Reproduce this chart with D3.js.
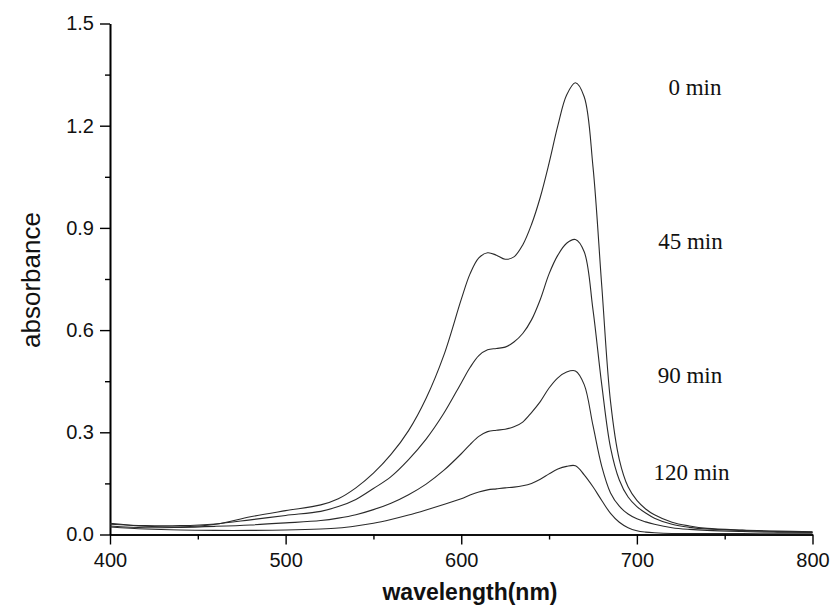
<!DOCTYPE html>
<html lang="en">
<head>
  <meta charset="UTF-8">
  <script src="https://d3js.org/d3.v7.min.js"></script>
  <title>Absorbance spectra</title>
  <style>
    body { margin: 0; background: #fff; }
    .tick text { font-family: "Liberation Sans", Arial, sans-serif; font-size: 20px; fill: #111; }
    .domain { stroke: #000; stroke-width: 1.6px; }
    .tick line { stroke: #000; stroke-width: 1.4px; }
  </style>
</head>
<body>
  <div id="chart"></div>
  <script>
    // wavelength grid (nm), shared by all four spectra
    const wavelengths = [400, 420, 440, 460, 480, 500, 520, 530, 540, 550, 560, 570, 580, 590, 600, 605, 610, 615,
      620, 625, 630, 635, 640, 645, 650, 655, 660, 665, 670, 675, 680, 685, 690, 695, 700, 705, 710, 720, 730, 740,
      760, 780, 800];

    // absorbance
    const abs0 = [0.033, 0.024, 0.022, 0.030, 0.052, 0.070, 0.087, 0.105, 0.137, 0.180, 0.235, 0.305, 0.400, 0.525,
      0.690, 0.765, 0.812, 0.827, 0.820, 0.808, 0.815, 0.850, 0.910, 0.990, 1.090, 1.200, 1.290, 1.326, 1.285, 1.080,
      0.730, 0.390, 0.220, 0.140, 0.100, 0.075, 0.058, 0.036, 0.025, 0.018, 0.013, 0.010, 0.008];
    const abs45 = [0.030, 0.026, 0.026, 0.031, 0.043, 0.056, 0.068, 0.082, 0.103, 0.135, 0.170, 0.220, 0.280, 0.355,
      0.445, 0.490, 0.525, 0.542, 0.546, 0.550, 0.565, 0.590, 0.630, 0.690, 0.765, 0.820, 0.855, 0.866, 0.830, 0.660,
      0.440, 0.255, 0.160, 0.110, 0.082, 0.063, 0.048, 0.030, 0.021, 0.016, 0.012, 0.009, 0.007];
    const abs90 = [0.025, 0.020, 0.021, 0.024, 0.028, 0.034, 0.041, 0.048, 0.058, 0.073, 0.092, 0.117, 0.148, 0.188,
      0.237, 0.264, 0.288, 0.302, 0.306, 0.309, 0.316, 0.330, 0.358, 0.390, 0.430, 0.460, 0.477, 0.480, 0.440, 0.320,
      0.200, 0.122, 0.083, 0.060, 0.046, 0.037, 0.030, 0.020, 0.015, 0.012, 0.009, 0.007, 0.006];
    const abs120 = [0.022, 0.016, 0.013, 0.012, 0.012, 0.013, 0.016, 0.019, 0.025, 0.033, 0.044, 0.057, 0.072, 0.088,
      0.105, 0.116, 0.125, 0.131, 0.134, 0.137, 0.139, 0.143, 0.150, 0.162, 0.178, 0.192, 0.200, 0.202, 0.175, 0.140,
      0.100, 0.062, 0.036, 0.020, 0.011, 0.007, 0.005, 0.003, 0.003, 0.003, 0.003, 0.004, 0.004];

    const seriesNames = ['0 min', '45 min', '90 min', '120 min'];
    const seriesValues = [abs0, abs45, abs90, abs120];

    const xTicks = [400, 500, 600, 700, 800];
    const xMinorTicks = [450, 550, 650, 750];
    const yTicks = [0, 0.3, 0.6, 0.9, 1.2, 1.5];
    const yMinorTicks = [0.15, 0.45, 0.75, 1.05, 1.35];

    const width = 833, height = 606;
    const svg = d3.select('#chart').append('svg')
      .attr('width', width)
      .attr('height', height);

    const x = d3.scaleLinear().domain([400, 800]).range([110, 812.5]);
    const y = d3.scaleLinear().domain([0, 1.5]).range([534.5, 23.5]);

    // minor ticks first, no labels
    svg.append('g')
      .attr('transform', `translate(0,${y(0)})`)
      .call(d3.axisBottom(x).tickValues(xMinorTicks).tickSize(5).tickSizeOuter(0).tickFormat(''));
    svg.append('g')
      .attr('transform', `translate(${x(400)},0)`)
      .call(d3.axisLeft(y).tickValues(yMinorTicks).tickSize(5).tickSizeOuter(0).tickFormat(''));

    svg.append('g')
      .attr('transform', `translate(0,${y(0)})`)
      .call(d3.axisBottom(x).tickValues(xTicks).tickSize(10).tickSizeOuter(0).tickPadding(8).tickFormat(d3.format('d')));
    svg.append('g')
      .attr('transform', `translate(${x(400)},0)`)
      .call(d3.axisLeft(y).tickValues(yTicks).tickSize(10).tickSizeOuter(0).tickPadding(6).tickFormat(d3.format('.1f')));

    const line = d3.line()
      .x((d, i) => x(wavelengths[i]))
      .y(d => y(d))
      .curve(d3.curveCatmullRom.alpha(0.5));

    svg.selectAll('path.spectrum')
      .data(seriesValues)
      .enter()
      .append('path')
      .attr('class', 'spectrum')
      .attr('fill', 'none')
      .attr('stroke', '#2a2a2a')
      .attr('stroke-width', 1.1)
      .attr('d', d => line(d));

    // curve labels (pixel anchors for the text only)
    const labelSpots = [[695, 95], [690.5, 249], [690, 383], [691.5, 480]];
    svg.selectAll('text.curve-label')
      .data(seriesNames)
      .enter()
      .append('text')
      .attr('class', 'curve-label')
      .attr('x', (d, i) => labelSpots[i][0])
      .attr('y', (d, i) => labelSpots[i][1])
      .attr('text-anchor', 'middle')
      .style('font-family', '"Liberation Serif", "Times New Roman", serif')
      .style('font-size', '23px')
      .style('fill', '#111')
      .text(d => d);

    svg.append('text')
      .attr('x', 470)
      .attr('y', 600)
      .attr('text-anchor', 'middle')
      .style('font-family', '"Liberation Sans", Arial, sans-serif')
      .style('font-size', '23px')
      .style('font-weight', 'bold')
      .style('fill', '#111')
      .text('wavelength(nm)');

    svg.append('text')
      .attr('transform', 'translate(40,280) rotate(-90)')
      .attr('text-anchor', 'middle')
      .style('font-family', '"Liberation Sans", Arial, sans-serif')
      .style('font-size', '26px')
      .style('fill', '#111')
      .text('absorbance');
  </script>
</body>
</html>
